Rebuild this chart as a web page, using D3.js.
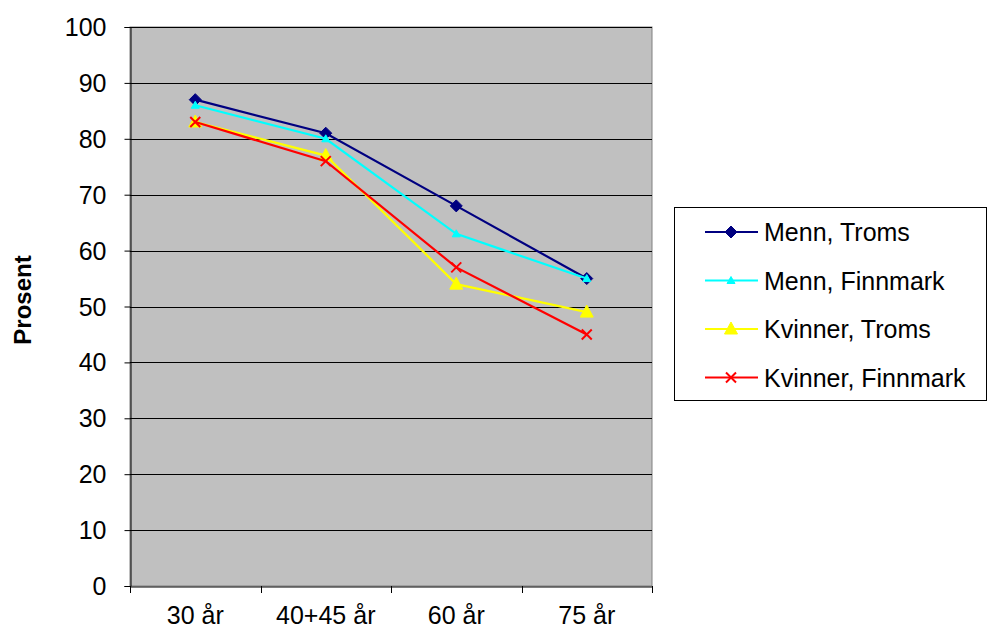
<!DOCTYPE html>
<html><head><meta charset="utf-8">
<script src="https://cdn.jsdelivr.net/npm/d3@7"></script>
<style>body{margin:0;background:#fff}svg{display:block;font-family:"Liberation Sans",Arial,sans-serif}</style>
</head><body><svg id="c" width="988" height="630"></svg>
<script>
const categories = ["30 år","40+45 år","60 år","75 år"];
const seriesNames = ["Menn, Troms","Menn, Finnmark","Kvinner, Troms","Kvinner, Finnmark"];
const mennTroms = [87,81,68,55];
const mennFinnmark = [86,80,63,55];
const kvinnerTroms = [83,77,54,49];
const kvinnerFinnmark = [83,76,57,45];
const yTicks = [0,10,20,30,40,50,60,70,80,90,100];

const colors = ["#000080","#00FFFF","#FFFF00","#FF0000"];
const markers = ["diamond","smalltri","triangle","x"];
const series = [mennTroms,mennFinnmark,kvinnerTroms,kvinnerFinnmark].map((v,i)=>({name:seriesNames[i],values:v,color:colors[i],marker:markers[i]}));

const FS = 25;
const svg = d3.select("#c");
const L=130,R=652,T=27,B=586;
const x = d3.scaleBand().domain(categories).range([L,R]);
const y = d3.scaleLinear().domain([0,100]).range([B,T]);

svg.append("rect").attr("x",L).attr("y",T).attr("width",R-L).attr("height",B-T).attr("fill","#C0C0C0").attr("stroke","#808080").attr("stroke-width",1);

svg.append("g").selectAll("line").data(yTicks.filter(d=>d>0)).join("line")
  .attr("x1",L).attr("x2",R).attr("y1",d=>Math.round(y(d))+0.5).attr("y2",d=>Math.round(y(d))+0.5)
  .attr("stroke","#000").attr("stroke-width",1);

// y axis
const ya = svg.append("g").attr("transform",`translate(${L+0.5},0)`).call(d3.axisLeft(y).tickValues(yTicks).tickSize(6).tickPadding(18));
ya.select(".domain").attr("stroke","#000");
ya.selectAll("text").attr("font-size",FS).attr("fill","#000").attr("dy","0.34em").style("font-family","Liberation Sans, Arial, sans-serif");
// x axis
const xa = svg.append("g").attr("transform",`translate(0,${B+0.5})`).call(d3.axisBottom(x).tickSize(0).tickPadding(22));
xa.select(".domain").attr("stroke","#000");
xa.selectAll("text").attr("font-size",FS).attr("fill","#000").attr("dy",null).attr("y",37).style("font-family","Liberation Sans, Arial, sans-serif");
const edges = categories.map(c=>x(c)).concat([R]);
svg.append("g").selectAll("line").data(edges).join("line")
  .attr("x1",d=>Math.round(d)+0.5).attr("x2",d=>Math.round(d)+0.5).attr("y1",B).attr("y2",B+7).attr("stroke","#000");

svg.append("text").attr("transform","translate(31,300) rotate(-90)").attr("text-anchor","middle")
  .attr("font-size",24).attr("font-weight","bold").text("Prosent");

function drawMarker(g,type,color,cx,cy){
  if(type==="diamond"){
    g.append("path").attr("d",`M${cx},${cy-6}L${cx+6},${cy}L${cx},${cy+6}L${cx-6},${cy}Z`).attr("fill",color).attr("stroke",color);
  } else if(type==="smalltri"){
    g.append("path").attr("d",`M${cx},${cy-4}L${cx+4},${cy+3}L${cx-4},${cy+3}Z`).attr("fill",color).attr("stroke",color);
  } else if(type==="triangle"){
    g.append("path").attr("d",`M${cx},${cy-7}L${cx+6.5},${cy+5}L${cx-6.5},${cy+5}Z`).attr("fill",color).attr("stroke",color);
  } else {
    g.append("path").attr("d",`M${cx-5},${cy-5}L${cx+5},${cy+5}M${cx+5},${cy-5}L${cx-5},${cy+5}`).attr("stroke",color).attr("stroke-width",2).attr("fill","none");
  }
}

const line = d3.line().x((d,i)=>x(categories[i])+x.bandwidth()/2).y(d=>y(d));
series.forEach(s=>{
  const g = svg.append("g");
  g.append("path").attr("d",line(s.values)).attr("fill","none").attr("stroke",s.color).attr("stroke-width",2.2);
  s.values.forEach((v,i)=>drawMarker(g,s.marker,s.color,x(categories[i])+x.bandwidth()/2,y(v)));
});

// legend
const lg = svg.append("g");
lg.append("rect").attr("x",674.5).attr("y",207.5).attr("width",312).attr("height",193).attr("fill","#fff").attr("stroke","#000");
series.forEach((s,i)=>{
  const yy = 232 + i*48.5;
  lg.append("line").attr("x1",705).attr("x2",758).attr("y1",yy).attr("y2",yy).attr("stroke",s.color).attr("stroke-width",2.2);
  drawMarker(lg,s.marker,s.color,731,yy);
  lg.append("text").attr("x",764).attr("y",yy+9).attr("font-size",FS).text(s.name);
});
</script></body></html>
